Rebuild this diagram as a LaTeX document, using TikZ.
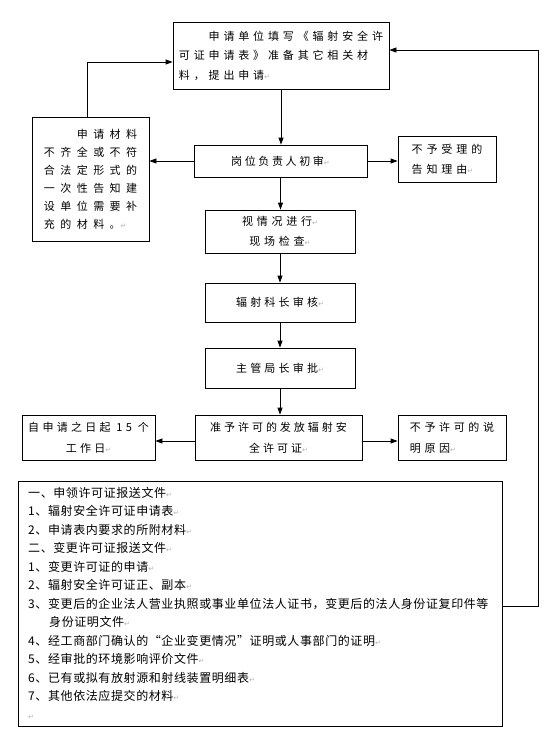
\documentclass[tikz,border=0pt]{standalone}
\usepackage{fontspec}
\usetikzlibrary{arrows.meta}
\newfontfamily\cjk{Noto Sans CJK SC}
\newfontfamily\dvs{DejaVu Sans}
\newcommand\retm{{\dvs\fontsize{7}{7}\selectfont\color{gray!60}↵}}
\tikzset{
  fbox/.style={draw, line width=0.8pt, inner sep=0pt},
  ls/.style n args={2}{font=\cjk\fontsize{11}{#2}\selectfont\addfontfeature{LetterSpace=#1}},
  arr/.style={line width=0.8pt, -{Triangle[length=7pt,width=5pt]}},
}
\begin{document}
\begin{tikzpicture}[x=1pt,y=-1pt]
\fill[white] (0,0) rectangle (556,753);
\useasboundingbox (0,0) rectangle (556,753);
% flow boxes
\node[fbox, minimum width=216pt, minimum height=67pt, align=left, ls={35}{19.5}] (top) at (281,55.5)
  {　　申请单位填写《辐射安全许\\可证申请表》准备其它相关材\\料，提出申请\retm};
\node[fbox, minimum width=117pt, minimum height=124pt, align=left, ls={50}{18}] (left) at (90.5,179)
  {　　申请材料\\不齐全或不符\\合法定形式的\\一次性告知建\\设单位需要补\\充的材料。\retm};
\node[fbox, minimum width=173pt, minimum height=32pt, align=center, ls={24}{19}] (gw) at (280.5,161)
  {岗位负责人初审\retm};
\node[fbox, minimum width=98pt, minimum height=46pt, align=left, ls={36}{20}] (byl) at (447,159)
  {不予受理的\\告知理由\retm};
\node[fbox, minimum width=150pt, minimum height=43pt, align=center, ls={34}{20}] (sq) at (280,231.5)
  {视情况进行\retm\\现场检查\retm};
\node[fbox, minimum width=150pt, minimum height=39pt, align=center, ls={29}{19}] (fs) at (280,302.5)
  {辐射科长审核\retm};
\node[fbox, minimum width=150pt, minimum height=40pt, align=center, ls={29}{19}] (zg) at (280,368)
  {主管局长审批\retm};
\node[fbox, minimum width=133pt, minimum height=45pt, align=center, ls={30}{21}] (zs) at (88.5,437.5)
  {自申请之日起 15 个\\工作日\retm};
\node[fbox, minimum width=167pt, minimum height=45pt, align=center, ls={27}{21}] (zy) at (278.5,437.5)
  {准予许可的发放辐射安\\全许可证\retm};
\node[fbox, minimum width=108pt, minimum height=45pt, align=left, ls={33}{21}] (bx) at (452,437.5)
  {不予许可的说\\明原因\retm};
% list box
\node[fbox, minimum width=484pt, minimum height=245pt] (list) at (260,603.5) {};
\node[anchor=north west, inner sep=0pt, align=left,
      font=\cjk\fontsize{12}{18.5}\selectfont\addfontfeature{LetterSpace=5}] (listtxt) at (28,487)
  {一、申领许可证报送文件\retm\\
   1、辐射安全许可证申请表\retm\\
   2、申请表内要求的所附材料\retm\\
   二、变更许可证报送文件\retm\\
   1、变更许可证的申请\retm\\
   2、辐射安全许可证正、副本\retm\\
   3、变更后的企业法人营业执照或事业单位法人证书，变更后的法人身份证复印件等\\
   \hspace*{21pt}身份证明文件\retm\\
   4、经工商部门确认的“企业变更情况”证明或人事部门的证明\retm\\
   5、经审批的环境影响评价文件\retm\\
   6、已有或拟有放射源和射线装置明细表\retm\\
   7、其他依法应提交的材料\retm\\
   \retm};
% connectors
\draw[arr] (top.south) -- (top.south |- gw.north);
\draw[arr] (gw.south) -- (gw.south |- sq.north);
\draw[arr] (sq.south) -- (sq.south |- fs.north);
\draw[arr] (fs.south) -- (fs.south |- zg.north);
\draw[arr] (zg.south) -- (zg.south |- zy.north);
\draw[arr] (gw.west) -- (gw.west -| left.east);
\draw[arr] (gw.east) -- (gw.east -| byl.west);
\draw[arr] ([xshift=-3.5pt]left.north) |- ([yshift=-6.5pt]top.west);
\draw[arr] ([yshift=-3.5pt]zy.west) -- ([yshift=-3.5pt]zy.west -| zs.east);
\draw[arr] ([yshift=-3.5pt]zy.east) -- ([yshift=-3.5pt]zy.east -| bx.west);
\draw[arr] ([yshift=-2.5pt]list.east) -- ++(36,0) |- ([yshift=5.5pt]top.east);
\end{tikzpicture}
\end{document}
